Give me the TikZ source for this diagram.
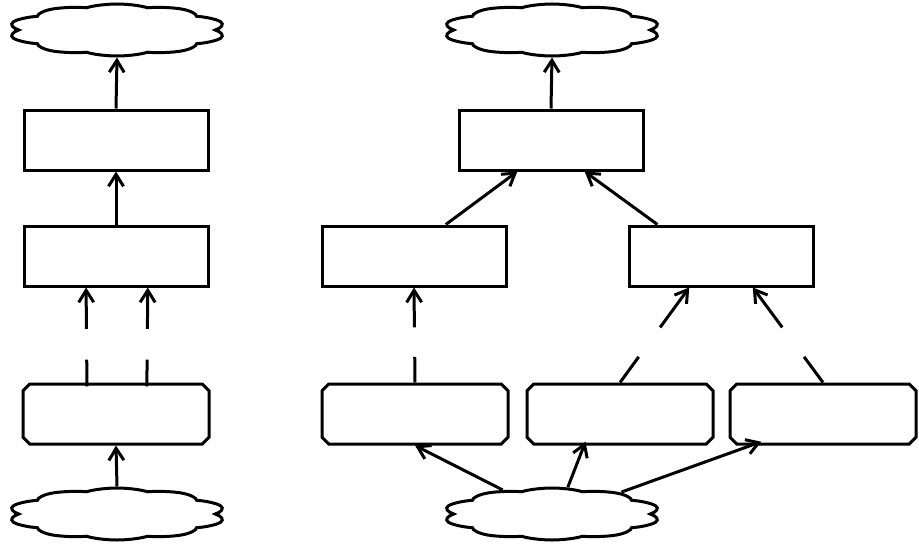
\documentclass[tikz,border=0pt]{standalone}
\usetikzlibrary{shapes.symbols,shapes.misc,arrows.meta,calc}

\tikzset{
  linie/.style={line width=3pt},
  wolke/.style={draw, linie, cloud, cloud puffs=10, cloud puff arc=110, aspect=1, minimum width=52pt, minimum height=52pt, inner sep=0pt, xscale=4.2, transform shape},
  kasten/.style={draw, linie, rectangle, minimum width=184pt, minimum height=60pt},
  quelle/.style={draw, linie, chamfered rectangle, chamfered rectangle sep=10pt, minimum width=186pt, minimum height=60pt},
  pfeil/.style={linie, -{Straight Barb[length=12pt,width=15pt]}},
}

\begin{document}
\begin{tikzpicture}[x=1pt, y=-1pt]
        \useasboundingbox (0,0) rectangle (919,546);

        % Wolken
        \foreach \n/\x/\y in {wLo/117/30, wLu/117/514, wRo/552/30, wRu/552/514} {
            \node[shift={(\x,\y)}, wolke] (\n) at (0,0) {};
        }

        % Links
        \node[kasten] (kL1) at (116,140) {};
        \node[kasten] (kL2) at (116,256) {};
        \node[quelle] (qL)  at (116,414) {};

        % Rechts
        \node[kasten] (kR0) at (551,140) {};
        \node[kasten] (kRa) at (414,256) {};
        \node[kasten] (kRb) at (721,256) {};
        \node[quelle] (qA)  at (415,414) {};
        \node[quelle] (qB)  at (620,414) {};
        \node[quelle] (qC)  at (823,414) {};

        % durchgehende Pfeile
        \draw[pfeil] (kL1.north) -- (wLo.south);
        \draw[pfeil] (kL2.north) -- (kL1.south);
        \draw[pfeil] (wLu.north) -- (qL.south);
        \draw[pfeil] (kR0.north) -- (wRo.south);
        \draw[pfeil] ($(kRa.north west)!0.67!(kRa.north east)$) -- ($(kR0.south west)!0.32!(kR0.south east)$);
        \draw[pfeil] ($(kRb.north west)!0.16!(kRb.north east)$) -- ($(kR0.south west)!0.68!(kR0.south east)$);
        \draw[pfeil] (wRu.116) -- (qA.south);
        \draw[pfeil] (wRu.82)  -- ($(qB.south west)!0.31!(qB.south east)$);
        \draw[pfeil] (wRu.53)  -- ($(qC.south west)!0.16!(qC.south east)$);

        % Anfangs- und Endpunkte der unterbrochenen Pfeile
        \coordinate (s1) at ($(qL.north west)!0.34!(qL.north east)$);
        \coordinate (t1) at ($(kL2.south west)!0.34!(kL2.south east)$);
        \coordinate (s2) at ($(qL.north west)!0.67!(qL.north east)$);
        \coordinate (t2) at ($(kL2.south west)!0.67!(kL2.south east)$);
        \coordinate (s3) at (qA.north);
        \coordinate (t3) at (kRa.south);
        \coordinate (s4) at (qB.north);
        \coordinate (t4) at ($(kRb.south west)!0.33!(kRb.south east)$);
        \coordinate (s5) at (qC.north);
        \coordinate (t5) at ($(kRb.south west)!0.67!(kRb.south east)$);

        % unterbrochene Pfeile
        \foreach \i in {1,...,5} {
            \draw[linie] (s\i) -- ($(s\i)!0.27!(t\i)$); % unten
            \draw[pfeil] ($(s\i)!0.58!(t\i)$) -- (t\i); % oben
        }
\end{tikzpicture}
\end{document}
